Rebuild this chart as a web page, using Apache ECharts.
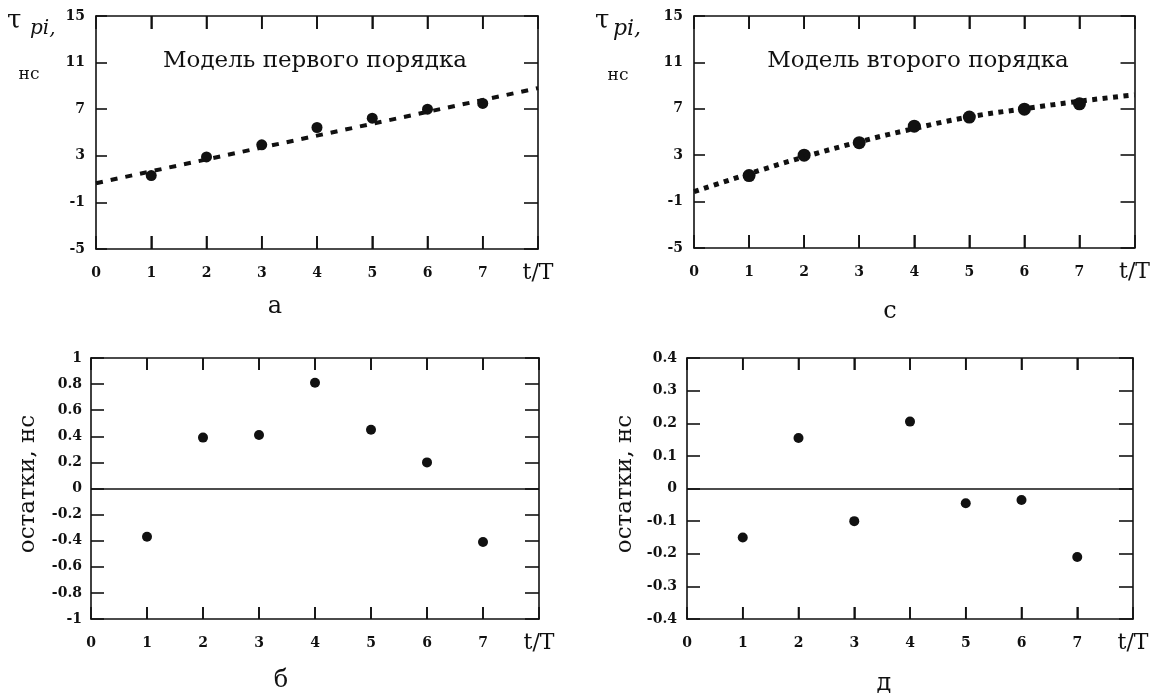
<!DOCTYPE html>
<html>
<head>
<meta charset="utf-8">
<script src="https://cdn.jsdelivr.net/npm/echarts@6/dist/echarts.min.js"></script>
<style>
html,body{margin:0;padding:0;background:#fff;}
#wrap{position:relative;width:1153px;height:693px;}
.panel{position:absolute;left:0;top:0;width:1153px;height:693px;}
</style>
</head>
<body>
<div id="wrap">
  <div class="panel" id="pa"></div>
  <div class="panel" id="pc"></div>
  <div class="panel" id="pb"></div>
  <div class="panel" id="pd"></div>
</div>
<script>
// ---- data ----
const pointX = [1, 2, 3, 4, 5, 6, 7];
const fitX = [0, 1, 2, 3, 4, 5, 6, 7, 8];
const xTickValues = [1, 2, 3, 4, 5, 6, 7];
const xTickLabels = ['0', '1', '2', '3', '4', '5', '6', '7', 't/T'];

// a: first-order model
const firstOrderMeasured = [1.3, 2.9, 3.94, 5.43, 6.23, 7.0, 7.5];
const firstOrderFit = [0.65, 1.67, 2.69, 3.71, 4.73, 5.75, 6.77, 7.79, 8.81];
// c: second-order model
const secondOrderMeasured = [1.24, 3.0, 4.08, 5.5, 6.29, 6.97, 7.43];
const secondOrderFit = [-0.15, 1.4, 2.85, 4.15, 5.3, 6.3, 7.0, 7.65, 8.2];
// б: residuals of first-order model
const residualsFirst = [-0.37, 0.39, 0.41, 0.81, 0.45, 0.2, -0.41];
// д: residuals of second-order model
const residualsSecond = [-0.15, 0.155, -0.1, 0.205, -0.045, -0.035, -0.21];

const titleFirst = 'Модель первого порядка';
const titleSecond = 'Модель второго порядка';
const residualName = 'остатки, нс';
const panelCaptions = ['а', 'с', 'б', 'д'];

// ---- helpers ----
const INK = '#111';
const SERIF = '"DejaVu Serif", "Liberation Serif", serif';
const pairs = (xs, ys) => xs.map((x, i) => [x, ys[i]]);
const lineOf = () => ({ show: true, onZero: false, lineStyle: { color: INK, width: 1.6 } });
const tickOf = len => ({ show: true, inside: true, length: len, lineStyle: { color: INK, width: 1.6 } });

function xAxes(margin, tick) {
  return [
    {
      type: 'value', position: 'bottom', min: 0, max: 8, interval: 1,
      axisLine: lineOf(), splitLine: { show: false }, axisTick: tickOf(tick),
      axisLabel: {
        margin: margin, verticalAlign: 'middle', color: INK,
        fontFamily: SERIF, fontSize: 14, fontWeight: 'bold',
        showMinLabel: true, showMaxLabel: true,
        formatter: v => v === 8 ? '{tt|' + xTickLabels[8] + '}' : xTickLabels[v],
        rich: { tt: { fontFamily: SERIF, fontSize: 22, fontWeight: 'normal', color: INK } }
      }
    },
    {
      type: 'value', position: 'top', min: 0, max: 8, interval: 1,
      axisLine: lineOf(), splitLine: { show: false }, axisLabel: { show: false }, axisTick: tickOf(tick)
    }
  ];
}
function yAxes(min, max, interval, margin, tickL, tickR) {
  return [
    {
      type: 'value', position: 'left', min: min, max: max, interval: interval,
      axisLine: lineOf(), splitLine: { show: false }, axisTick: tickOf(tickL),
      axisLabel: { margin: margin, color: INK, fontFamily: SERIF, fontSize: 14, fontWeight: 'bold',
        showMinLabel: true, showMaxLabel: true }
    },
    {
      type: 'value', position: 'right', min: min, max: max, interval: interval,
      axisLine: lineOf(), splitLine: { show: false }, axisLabel: { show: false }, axisTick: tickOf(tickR)
    }
  ];
}
// inward tick marks on the top and bottom frame edges, placed through the x scale
function xEdgeTicks(yMin, len) {
  return {
    type: 'custom', silent: true, clip: false, z: 5,
    data: xTickValues.map(v => [v, yMin]),
    renderItem: (params, api) => {
      const x = api.coord([api.value(0), api.value(1)])[0];
      const cs = params.coordSys;
      const st = { stroke: INK, lineWidth: 1.6, fill: null };
      return {
        type: 'group',
        children: [
          { type: 'line', shape: { x1: x, y1: cs.y + cs.height, x2: x, y2: cs.y + cs.height - len }, style: st },
          { type: 'line', shape: { x1: x, y1: cs.y, x2: x, y2: cs.y + len }, style: st }
        ]
      };
    }
  };
}
const zeroLine = () => ({
  silent: true, symbol: 'none', label: { show: false },
  lineStyle: { color: INK, width: 1.5, type: 'solid' },
  data: [{ yAxis: 0 }]
});
const dotStyle = () => ({ color: INK, opacity: 1 });

function text(x, y, str, size, opts) {
  return Object.assign({
    type: 'text', x: x, y: y, silent: true,
    style: Object.assign({
      text: str, fill: INK, fontFamily: SERIF, fontSize: size,
      align: 'center', verticalAlign: 'middle'
    }, (opts && opts.style) || {})
  }, (opts && opts.el) || {});
}

const panels = [
  { id: 'pa',
    grid: { left: 96, top: 16, width: 442, height: 233 },
    xAxis: xAxes(24, 13), yAxis: yAxes(-5, 15, 4, 11, 11, 14),
    series: [
      { type: 'line', data: pairs(fitX, firstOrderFit), symbol: 'none',
        lineStyle: { color: INK, width: 4, type: [7, 8], cap: 'butt' } },
      { type: 'scatter', data: pairs(pointX, firstOrderMeasured), symbolSize: 11, itemStyle: dotStyle() },
      xEdgeTicks(-5, 13)
    ],
    graphic: [
      text(315, 61, titleFirst, 23),
      text(7, 21, 'τ', 26, { style: { align: 'left' } }),
      text(30, 29, 'pi,', 20, { style: { align: 'left', fontStyle: 'italic' } }),
      text(29, 75, 'нс', 17),
      text(275, 307, panelCaptions[0], 24)
    ] },
  { id: 'pc',
    grid: { left: 694, top: 16, width: 442, height: 232 },
    xAxis: xAxes(24, 13), yAxis: yAxes(-5, 15, 4, 11, 11, 14),
    series: [
      { type: 'line', data: pairs(fitX, secondOrderFit), symbol: 'none', smooth: true,
        lineStyle: { color: INK, width: 5, type: [5, 5.5], cap: 'butt' } },
      { type: 'scatter', data: pairs(pointX, secondOrderMeasured), symbolSize: 13, itemStyle: dotStyle() },
      xEdgeTicks(-5, 13)
    ],
    graphic: [
      text(918, 61, titleSecond, 23),
      text(595, 21, 'τ', 26, { style: { align: 'left' } }),
      text(613, 29, 'pi,', 22, { style: { align: 'left', fontStyle: 'italic' } }),
      text(618, 76, 'нс', 17),
      text(890, 312, panelCaptions[1], 24)
    ] },
  { id: 'pb',
    grid: { left: 91, top: 358, width: 448, height: 261 },
    xAxis: xAxes(24, 12), yAxis: yAxes(-1, 1, 0.2, 9, 13, 14),
    series: [
      { type: 'scatter', data: pairs(pointX, residualsFirst), symbolSize: 10, itemStyle: dotStyle(), markLine: zeroLine() },
      xEdgeTicks(-1, 12)
    ],
    graphic: [
      text(28, 484, residualName, 23, { el: { rotation: Math.PI / 2 } }),
      text(281, 681, panelCaptions[2], 24)
    ] },
  { id: 'pd',
    grid: { left: 687, top: 358, width: 446, height: 261 },
    xAxis: xAxes(24, 12), yAxis: yAxes(-0.4, 0.4, 0.1, 10, 13, 14),
    series: [
      { type: 'scatter', data: pairs(pointX, residualsSecond), symbolSize: 10, itemStyle: dotStyle(), markLine: zeroLine() },
      xEdgeTicks(-0.4, 12)
    ],
    graphic: [
      text(625, 484, residualName, 23, { el: { rotation: Math.PI / 2 } }),
      text(884, 684, panelCaptions[3], 24)
    ] }
];

panels.forEach(p => {
  const chart = echarts.init(document.getElementById(p.id));
  chart.setOption({
    animation: false,
    grid: p.grid,
    xAxis: p.xAxis,
    yAxis: p.yAxis,
    series: p.series,
    graphic: p.graphic
  });
});
</script>
</body>
</html>
